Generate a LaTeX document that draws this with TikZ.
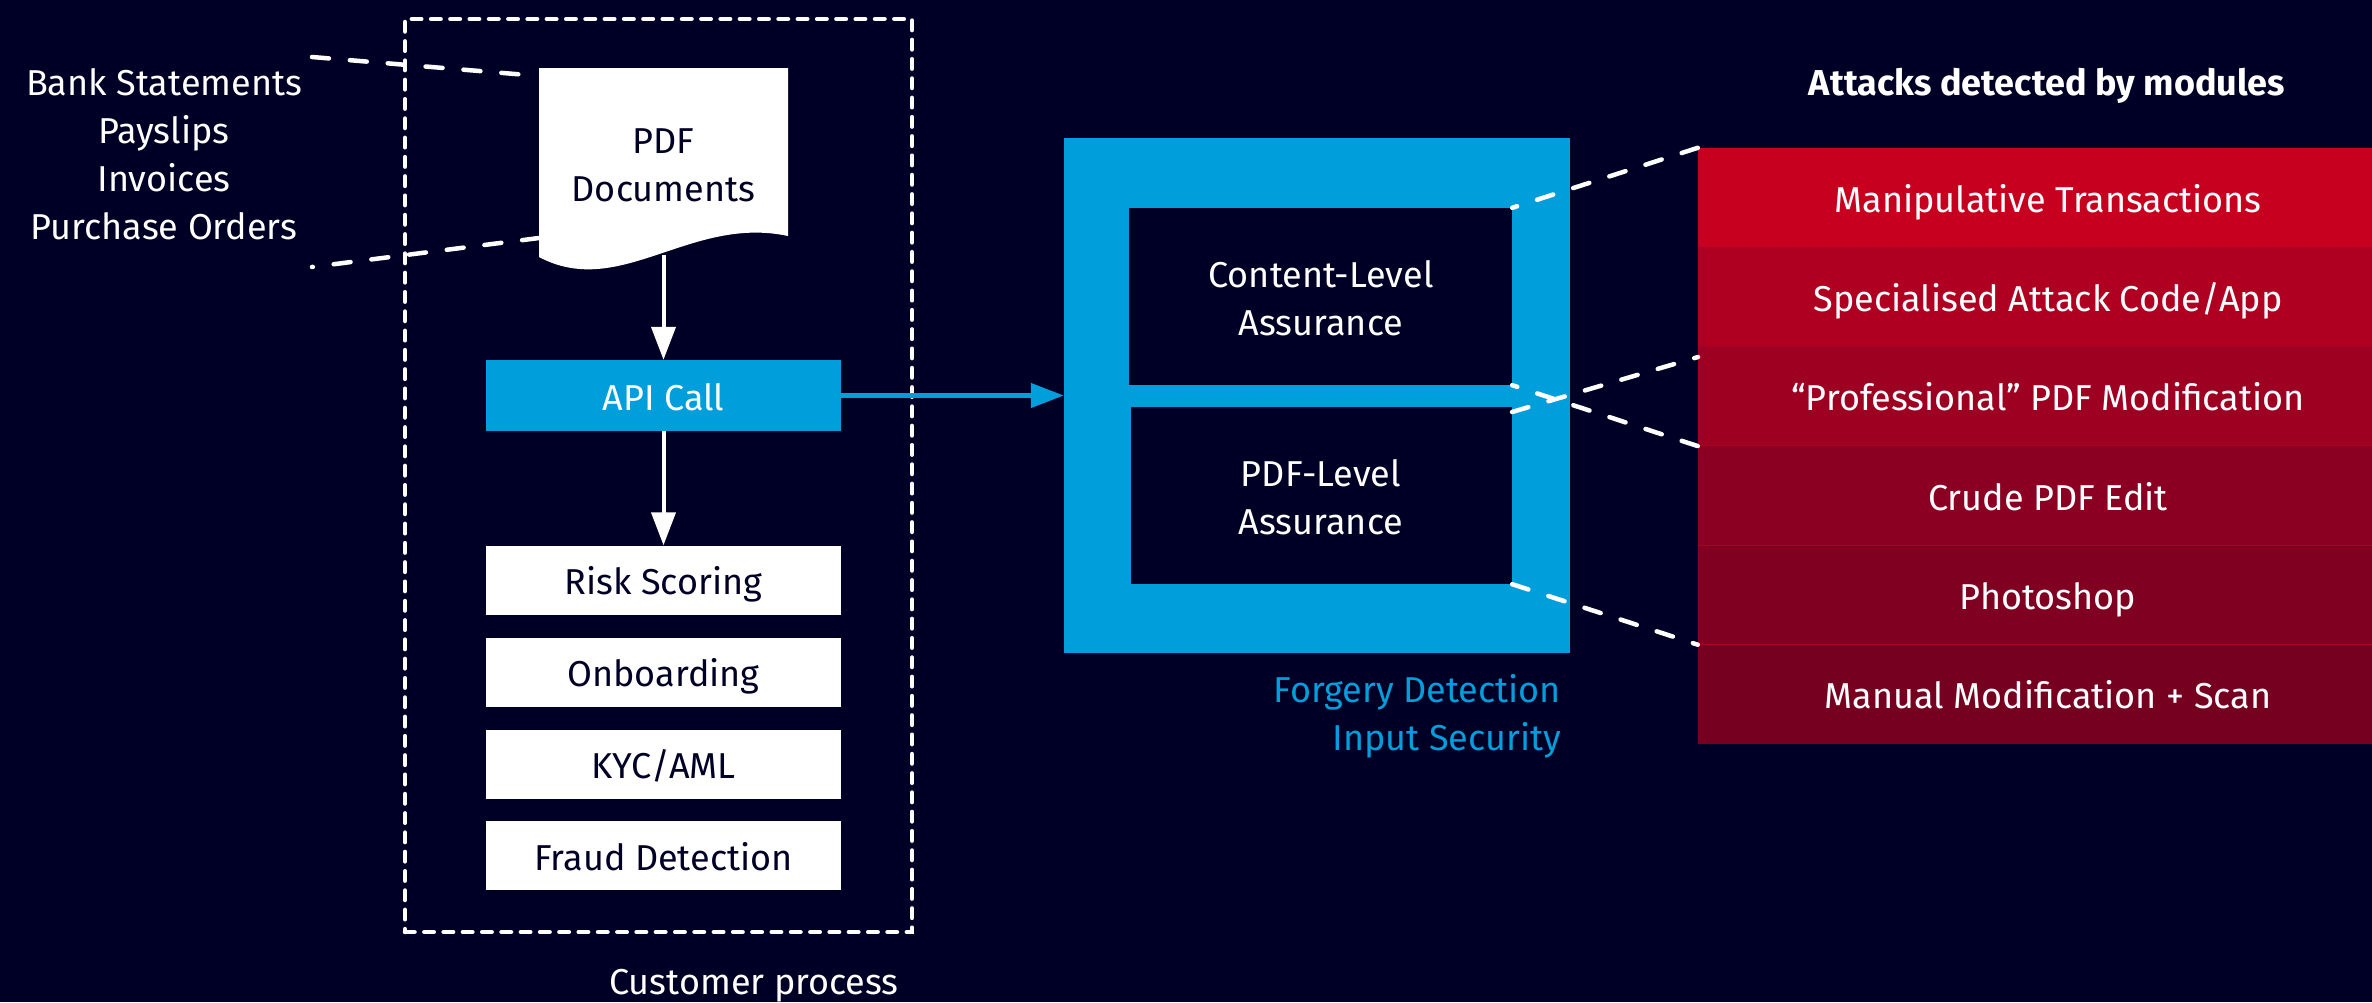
\documentclass[tikz,border=0pt]{standalone}
\usepackage{fontspec}
\setmainfont{Fira Sans}
\usetikzlibrary{arrows.meta}

\definecolor{night}{RGB}{0,0,38}
\definecolor{azure}{RGB}{0,159,219}
\definecolor{redA}{RGB}{200,0,32}
\definecolor{redB}{RGB}{176,0,34}
\definecolor{redC}{RGB}{158,0,34}
\definecolor{redD}{RGB}{139,0,34}
\definecolor{redE}{RGB}{128,0,33}
\definecolor{redF}{RGB}{118,0,32}
\definecolor{redSep}{RGB}{168,0,38}

\begin{document}
\begin{tikzpicture}[x=1pt,y=-1pt,
  every node/.style={font=\fontsize{36}{48}\selectfont, text=white, inner sep=0pt},
  % single-line boxes: baseline sits 14.7pt below the box centre
  oneline/.style={text height=29.4pt, text depth=0pt},
  whitebox/.style={oneline, fill=white, text=night, minimum width=355pt, minimum height=69pt},
  bluebox/.style={oneline, fill=azure, minimum width=355pt, minimum height=71pt},
  darkbox/.style={fill=night, minimum height=177pt},
  attack/.style={oneline, minimum width=700pt, minimum height=99.3pt},
  caption/.style={anchor=base},
  flow/.style={line width=4pt, -{Triangle[length=33pt,width=24pt]}},
  linkline/.style={white, line width=4.5pt, line cap=round, dash pattern=on 17pt off 21pt},
  custbox/.style={draw=white, line width=4.5pt, line cap=round, dash pattern=on 9.5pt off 9.8pt},
]

% canvas
\fill[night] (0,0) rectangle (2372,1002);
\useasboundingbox (0,0) rectangle (2372,1002);

% document types feeding the PDF
\node[caption] (kinds) at (164,95)
  {\begin{tabular}[t]{@{}c@{}}Bank Statements\\Payslips\\Invoices\\Purchase Orders\end{tabular}};

% customer process frame
\node[custbox, minimum width=507pt, minimum height=913pt] (proc) at (658.5,475.5) {};
\node[caption] (proclabel) at (754,994) {Customer process};

% PDF document sheet with wavy bottom
\fill[white] (539,68) -- (788,68) -- (788,236)
  .. controls (690,215) and (620,300) .. (539,257) -- cycle;
\node[caption, text=night] (doc) at (663.5,153)
  {\begin{tabular}[t]{@{}c@{}}PDF\\Documents\end{tabular}};
\coordinate (docfoot) at (663.5,255);

\coordinate (kindsTop) at (312,57);
\coordinate (docTop) at (539,76);
\coordinate (kindsBot) at (312,267);
\coordinate (docBot) at (539,238);
\draw[linkline] (kindsTop) -- (docTop);
\draw[linkline] (docBot) -- (kindsBot);

% process steps
\node[bluebox] (api) at (663.5,395.5) {API Call};
\node[whitebox] (risk) at (663.5,580) {Risk Scoring};
\node[whitebox] (onb) at (663.5,672) {Onboarding};
\node[whitebox] (kyc) at (663.5,764) {KYC/AML};
\node[whitebox] (fraud) at (663.5,855.5) {Fraud Detection};

\draw[flow, white] (docfoot) -- (api);
\draw[flow, white] (api) -- (risk);

% forgery detection module
\node[fill=azure, minimum width=506pt, minimum height=515pt] (fd) at (1317,395.5) {};
\node[darkbox, minimum width=383pt] (content) at (1320.5,296.5) {};
\node[darkbox, minimum width=381pt] (pdfl) at (1321.5,495.5) {};
\node[caption] (contentTxt) at (1321,287.5)
  {\begin{tabular}[t]{@{}c@{}}Content-Level\\Assurance\end{tabular}};
\node[caption] (pdflTxt) at (1321,486)
  {\begin{tabular}[t]{@{}c@{}}PDF-Level\\Assurance\end{tabular}};
\node[anchor=base east, text=azure] (fdlabel) at (1561,702)
  {\begin{tabular}[t]{@{}r@{}}Forgery Detection\\Input Security\end{tabular}};

\draw[flow, azure, line width=4.5pt] (api) -- (fd);

% attack catalogue
\node[caption, font=\fontsize{36}{48}\selectfont\bfseries] (title) at (2047,95) {Attacks detected by modules};
\node[attack, fill=redA] (r1) at (2048,197.65) {Manipulative Transactions};
\node[attack, fill=redB] (r2) at (2048,296.95) {Specialised Attack Code/App};
\node[attack, fill=redC] (r3) at (2048,396.25) {“Professional” PDF Modification};
\node[attack, fill=redD] (r4) at (2048,495.55) {Crude PDF Edit};
\node[attack, fill=redE] (r5) at (2048,594.85) {Photoshop};
\node[attack, fill=redF] (r6) at (2048,694.15) {Manual Modification + Scan};
\foreach \r in {r2,r3,r4,r5,r6}
  \draw[redSep, line width=1pt] (\r.north west) -- (\r.north east);

% module-to-attack links
\coordinate (pdfTopR) at (1512,412);
\coordinate (r3mid) at (1698,357);
\draw[linkline] (r1.north west) -- (content.north east);
\draw[linkline] (r3.south west) -- (content.south east);
\draw[linkline] (pdfTopR) -- (r3mid);
\draw[linkline] (pdfl.south east) -- (r5.south west);

\end{tikzpicture}
\end{document}
